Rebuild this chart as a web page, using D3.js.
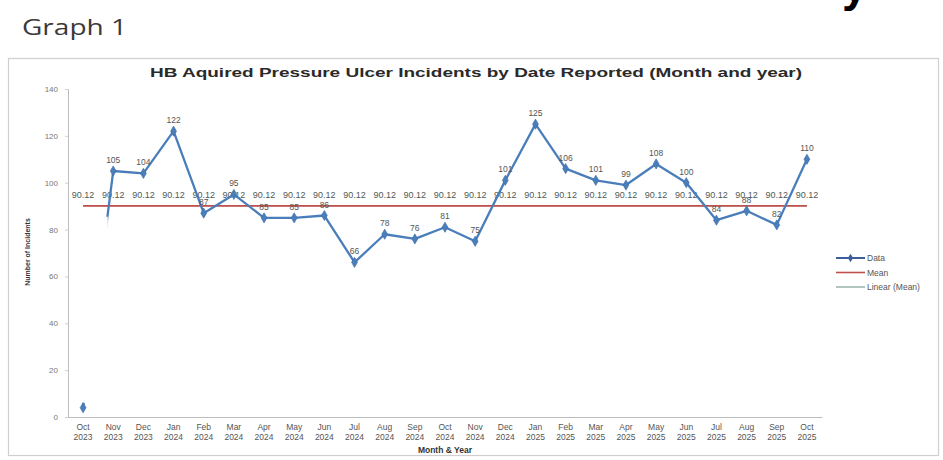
<!DOCTYPE html>
<html>
<head>
<meta charset="utf-8">
<script src="https://cdn.jsdelivr.net/npm/d3@7"></script>
<style>
  html, body { margin: 0; padding: 0; background: #fff; }
  svg { display: block; font-family: "Liberation Sans", Arial, sans-serif; }
</style>
</head>
<body>
<svg id="chart" width="943" height="460"></svg>
<script>
// ---- data ----
const categories = ["Oct 2023","Nov 2023","Dec 2023","Jan 2024","Feb 2024","Mar 2024","Apr 2024","May 2024","Jun 2024",
  "Jul 2024","Aug 2024","Sep 2024","Oct 2024","Nov 2024","Dec 2024","Jan 2025","Feb 2025","Mar 2025","Apr 2025",
  "May 2025","Jun 2025","Jul 2025","Aug 2025","Sep 2025","Oct 2025"];
const incidents = [4,105,104,122,87,95,85,85,86,66,78,76,81,75,101,125,106,101,99,108,100,84,88,82,110];
const meanValues = [90.12,90.12,90.12,90.12,90.12,90.12,90.12,90.12,90.12,90.12,90.12,90.12,90.12,
  90.12,90.12,90.12,90.12,90.12,90.12,90.12,90.12,90.12,90.12,90.12,90.12];
const yTicks = [0,20,40,60,80,100,120,140];
const legendItems = ["Data","Mean","Linear (Mean)"];
const titleText = "HB Aquired Pressure Ulcer Incidents by Date Reported (Month and year)";
// hidden (whited-out) stretch of the first segment, in data units
const hiddenRange = [6, 85.5];

const colors = { data: "#4a7ebb", mean: "#c0504d", trend: "#9fb8b0" };

const svg = d3.select("#chart");

// page heading remnants
svg.append("text").attr("x", 842).attr("y", 1).attr("font-size", 46).attr("font-weight", "bold")
  .attr("fill", "#000").text("y");
svg.append("text").attr("x", 22).attr("y", 35).attr("font-size", 22)
  .attr("font-family", "'Open Sans', sans-serif").attr("fill", "#3a3a3a")
  .attr("textLength", 105).attr("lengthAdjust", "spacingAndGlyphs").text("Graph 1");

// chart frame
svg.append("rect").attr("x", 8.5).attr("y", 58.5).attr("width", 930).attr("height", 397)
  .attr("fill", "#fff").attr("stroke", "#cfcfcf").attr("stroke-width", 1.2);

// title
svg.append("text").attr("x", 476).attr("y", 77).attr("text-anchor", "middle")
  .attr("font-size", 13).attr("font-weight", "bold").attr("fill", "#2a2a2a")
  .attr("textLength", 652).attr("lengthAdjust", "spacingAndGlyphs").text(titleText);

// scales
const x = d3.scaleBand().domain(categories).range([68, 822]).padding(0);
const y = d3.scaleLinear().domain([0, 140]).range([417, 89]);
const cx = c => x(c) + x.bandwidth() / 2;

// y axis
const yAxis = svg.append("g").attr("transform", "translate(68,0)")
  .call(d3.axisLeft(y).tickValues(yTicks).tickSize(3).tickPadding(7));
yAxis.select(".domain").attr("stroke", "#bdbdbd");
yAxis.selectAll(".tick line").attr("stroke", "#d0d0d0");
yAxis.selectAll(".tick text").attr("font-size", 8).attr("fill", "#777")
  .attr("font-family", "'Liberation Sans', Arial, sans-serif");

// x axis
const xAxis = svg.append("g").attr("transform", "translate(0,417)")
  .call(d3.axisBottom(x).tickSize(0).tickFormat(""));
xAxis.select(".domain").attr("stroke", "#bdbdbd").attr("stroke-width", 1.2);
const xl = svg.append("g").selectAll("text").data(categories).join("text")
  .attr("x", d => cx(d)).attr("text-anchor", "middle").attr("font-size", 8.5).attr("fill", "#555");
xl.append("tspan").attr("x", d => cx(d)).attr("y", 430).text(d => d.split(" ")[0]);
xl.append("tspan").attr("x", d => cx(d)).attr("y", 440).text(d => d.split(" ")[1]);

// axis titles
svg.append("text").attr("transform", "translate(30,252) rotate(-90)").attr("text-anchor", "middle")
  .attr("font-size", 7).attr("font-weight", "bold").attr("fill", "#333").text("Number of Incidents");
svg.append("text").attr("x", 445).attr("y", 453).attr("text-anchor", "middle")
  .attr("font-size", 8.5).attr("font-weight", "bold").attr("fill", "#333").text("Month & Year");

// trendline (Linear (Mean)) and mean line
const meanLine = d3.line().x((d, i) => cx(categories[i])).y(d => y(d));
svg.append("path").datum(meanValues).attr("d", meanLine).attr("fill", "none")
  .attr("stroke", colors.trend).attr("stroke-width", 1);
svg.append("path").datum(meanValues).attr("d", meanLine).attr("fill", "none")
  .attr("stroke", colors.mean).attr("stroke-width", 1.8);

// mean labels
svg.append("g").selectAll("text").data(meanValues).join("text")
  .attr("x", (d, i) => cx(categories[i])).attr("y", d => y(d) - 8).attr("text-anchor", "middle")
  .attr("font-size", 9).attr("fill", "#4f5a55").text(d => d.toFixed(2));

// data line
const dataLine = d3.line().x((d, i) => cx(categories[i])).y(d => y(d));
svg.append("path").datum(incidents).attr("d", dataLine).attr("fill", "none")
  .attr("stroke", colors.data).attr("stroke-width", 2.3).attr("stroke-linejoin", "round");

// data labels
svg.append("g").selectAll("text").data(incidents).join("text")
  .attr("x", (d, i) => cx(categories[i])).attr("y", d => y(d) - 8).attr("text-anchor", "middle")
  .attr("font-size", 8.5).attr("fill", "#555").text(d => d);

// whited-out stretch
svg.append("rect")
  .attr("x", cx(categories[0]) - 12).attr("y", y(hiddenRange[1]))
  .attr("width", (cx(categories[1]) - 5.5) - (cx(categories[0]) - 12))
  .attr("height", y(hiddenRange[0]) - y(hiddenRange[1]))
  .attr("fill", "#fff");

// markers
svg.append("g").selectAll("path").data(incidents).join("path")
  .attr("transform", (d, i) => `translate(${cx(categories[i])},${y(d)})`)
  .attr("d", d3.symbol().type(d3.symbolDiamond).size(30))
  .attr("fill", colors.data).attr("stroke", "#3a6aa8").attr("stroke-width", 0.6);

// legend
const lg = svg.append("g").attr("transform", "translate(836,258)");
const legendColors = [colors.data, colors.mean, colors.trend];
legendItems.forEach((name, i) => {
  const row = lg.append("g").attr("transform", `translate(0,${i * 14.5})`);
  row.append("line").attr("x1", 0).attr("x2", 29).attr("y1", 0).attr("y2", 0)
    .attr("stroke", i === 0 ? "#3b5f9a" : legendColors[i]).attr("stroke-width", i === 0 ? 2 : 1.6);
  if (i === 0) {
    row.append("path").attr("transform", "translate(14.5,0)")
      .attr("d", d3.symbol().type(d3.symbolDiamond).size(22)).attr("fill", "#3b5f9a");
  }
  row.append("text").attr("x", 31).attr("y", 3).attr("font-size", 8.5).attr("fill", "#555").text(name);
});
</script>
</body>
</html>
